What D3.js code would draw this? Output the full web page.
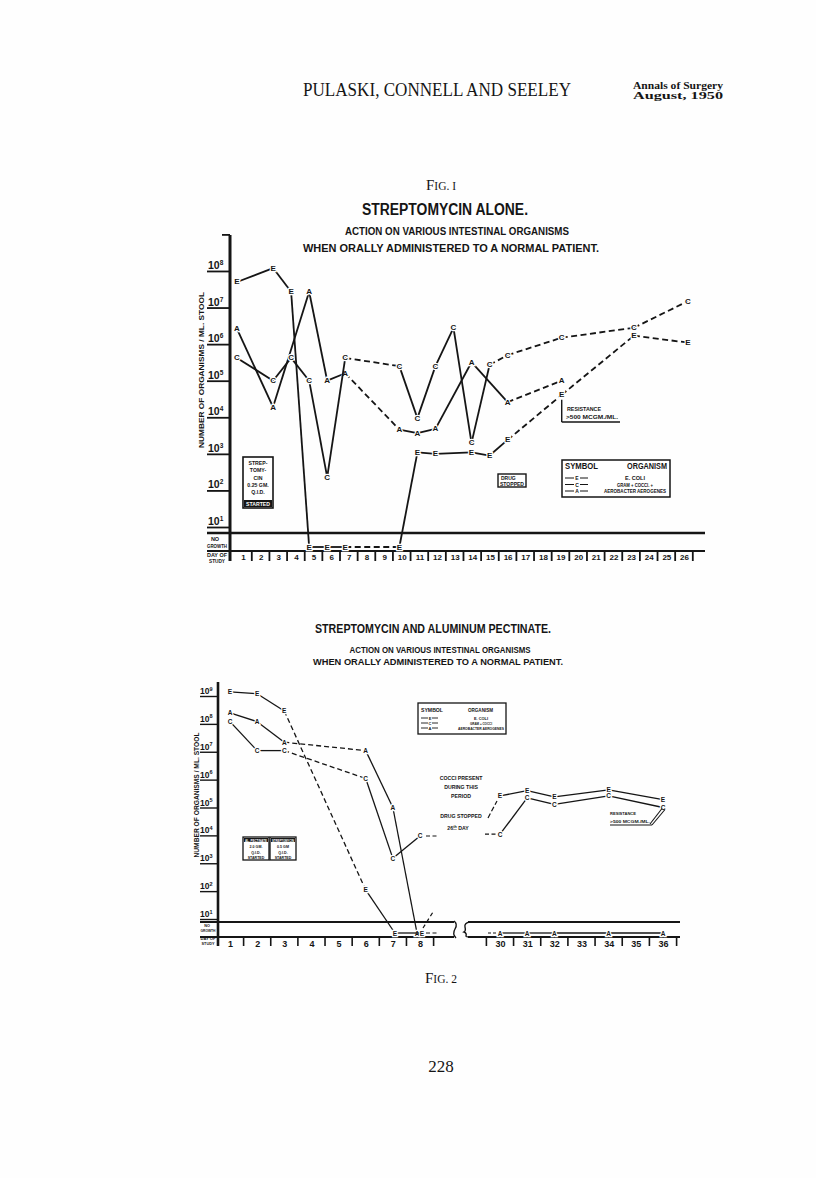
<!DOCTYPE html>
<html><head><meta charset="utf-8">
<script src="https://cdn.jsdelivr.net/npm/d3@7"></script>
<style>
body{margin:0;background:#fff;}
</style></head><body>
<svg id="c" width="816" height="1178"></svg>
<script>
// ---------------- DATA ----------------
// Fig. 1 — Streptomycin alone (organisms / ml stool, 0 = no growth)
const fig1DayLabels = d3.range(1, 27);
const fig1E_days = [1, 3, 4, 5, 6, 7, 10, 11, 12, 14, 15, 16, 19, 23, 26];
const fig1E_vals = [5.0e7, 1.2e8, 2.7e7, 0, 0, 0, 0, 1.1e3, 1.0e3, 1.1e3, 9e2, 2.4e3, 4.1e4, 1.7e6, 1.1e6];
const fig1E_dashed = [0, 0, 0, 0, 0, 1, 0, 0, 0, 0, 0, 1, 1, 1];
const fig1C_days = [1, 3, 4, 5, 6, 7, 10, 11, 12, 13, 14, 15, 16, 19, 23, 26];
const fig1C_vals = [4.2e5, 1.0e5, 4.2e5, 1.0e5, 2.3e2, 4.2e5, 2.5e5, 9.5e3, 2.5e5, 2.8e6, 2.0e3, 2.7e5, 5.0e5, 1.5e6, 2.8e6, 1.5e7];
const fig1C_dashed = [0, 0, 0, 0, 0, 1, 0, 0, 0, 0, 0, 1, 1, 1, 1];
const fig1A_days = [1, 3, 5, 6, 7, 10, 11, 12, 14, 16, 19];
const fig1A_vals = [2.6e6, 1.9e4, 2.7e7, 1.0e5, 1.6e5, 4.6e3, 3.7e3, 4.8e3, 3.2e5, 2.6e4, 1.0e5];
const fig1A_dashed = [0, 0, 0, 0, 1, 0, 0, 0, 0, 1];

// Fig. 2 — Streptomycin and aluminum pectinate
const fig2LeftDays = d3.range(1, 9);
const fig2RightDays = d3.range(30, 37);
const fig2E_days = [1, 2, 3, 6, 7, 8];
const fig2E_vals = [1.4e9, 1.2e9, 2.9e8, 1.1e2, 0, 0];
const fig2A_days = [1, 2, 3, 6, 7, 8];
const fig2A_vals = [2.5e8, 1.2e8, 2.2e7, 1.1e7, 1.0e5, 0];
const fig2C_days = [1, 2, 3, 6, 7, 8];
const fig2C_vals = [1.2e8, 1.1e7, 1.1e7, 1.1e6, 1.5e3, 9.5e3];
const fig2_dashed = [0, 0, 1, 0, 0];
const fig2E2_days = [30, 31, 32, 34, 36];
const fig2E2_vals = [2.6e5, 4.0e5, 2.4e5, 4.3e5, 1.9e5];
const fig2C2_days = [30, 31, 32, 34, 36];
const fig2C2_vals = [1.1e4, 2.2e5, 1.3e5, 2.6e5, 1.0e5];
const fig2A2_days = [30, 31, 32, 34, 36];
const fig2A2_vals = [0, 0, 0, 0, 0];

const fig1Exponents = [1, 2, 3, 4, 5, 6, 7, 8];
const fig2Exponents = [1, 2, 3, 4, 5, 6, 7, 8, 9];
const legendRows = [["E", "E. COLI"], ["C", "GRAM + COCCI. +"], ["A", "AEROBACTER AEROGENES"]];

// ---------------- DRAWING ----------------
const INK = '#151515';
const SANS = "'Liberation Sans Narrow','Liberation Sans','DejaVu Sans Condensed',Arial,sans-serif";
const SERIF = "'Liberation Serif','DejaVu Serif',serif";
const svg = d3.select('#c');
svg.append('rect').attr('width', 816).attr('height', 1178).attr('fill', '#fefefe');

function text(g, x, y, s, size, o = {}) {
  const t = g.append('text').attr('x', x).attr('y', y).text(s)
    .attr('font-family', o.family || SANS).attr('font-size', size)
    .attr('font-weight', o.weight || 'bold').attr('fill', o.fill || INK)
    .attr('text-anchor', o.anchor || 'start');
  if (o.len) t.attr('textLength', o.len).attr('lengthAdjust', 'spacingAndGlyphs');
  if (o.ls) t.attr('letter-spacing', o.ls);
  return t;
}
function line(g, x1, y1, x2, y2, w, dash) {
  const l = g.append('line').attr('x1', x1).attr('y1', y1).attr('x2', x2).attr('y2', y2)
    .attr('stroke', INK).attr('stroke-width', w);
  if (dash) l.attr('stroke-dasharray', dash);
  return l;
}
function series(g, days, vals, dashed, letter, x, y, ngY, o = {}) {
  const pts = days.map((d, i) => ({ x: x(d) + (vals[i] === 0 ? (o.ngOff || 0) : 0), y: vals[i] === 0 ? ngY : y(vals[i]) }));
  for (let i = 0; i < pts.length - 1; i++) {
    line(g, pts[i].x, pts[i].y, pts[i + 1].x, pts[i + 1].y, o.w || 1.8, dashed && dashed[i] ? (o.dash || '6,3.5') : null)
      .attr('stroke-linecap', 'butt');
  }
  g.selectAll(null).data(pts).enter().append('text')
    .attr('x', p => p.x).attr('y', p => p.y).text(letter)
    .attr('font-family', SANS).attr('font-weight', 'bold').attr('font-size', o.fs || 8)
    .attr('text-anchor', 'middle').attr('dominant-baseline', 'central')
    .attr('fill', INK).attr('stroke', '#fefefe').attr('stroke-width', 2.4).attr('paint-order', 'stroke');
  return pts;
}

// ---- Header ----
text(svg, 303, 96, 'PULASKI, CONNELL AND SEELEY', 18, { family: SERIF, weight: 'normal', len: 268 });
text(svg, 633, 89, 'Annals of Surgery', 9.5, { family: SERIF, len: 90 });
text(svg, 633, 99, 'August,  1950', 9.5, { family: SERIF, len: 90 });

// ================= FIG 1 =================
const g1 = svg.append('g');
const t1 = text(g1, 441, 190, '', 15, { family: SERIF, weight: 'normal', anchor: 'middle' });
t1.append('tspan').text('F'); t1.append('tspan').attr('font-size', 11.5).text('IG.  I');
text(g1, 445, 215, 'STREPTOMYCIN  ALONE.', 16, { anchor: 'middle', len: 166 });
text(g1, 457, 235, 'ACTION ON VARIOUS INTESTINAL ORGANISMS', 11, { anchor: 'middle', len: 224 });
text(g1, 451, 252, 'WHEN ORALLY ADMINISTERED TO A NORMAL PATIENT.', 11, { anchor: 'middle', len: 296 });

const x1 = d3.scaleLinear().domain([1, 26]).range([237, 688]);
const xl1 = d3.scaleLinear().domain([1, 26]).range([243, 684]);
const y1 = d3.scaleLog().domain([10, 1e9]).range([527, 234.4]);
const ng1 = 547;

// y axis with decade ticks
const ax1 = g1.append('g').attr('transform', 'translate(230,0)')
  .call(d3.axisLeft(y1).tickValues(fig1Exponents.map(e => Math.pow(10, e)).concat([1e9])).tickSize(23).tickFormat(''));
ax1.select('.domain').remove();
ax1.selectAll('.tick line').attr('stroke', INK).attr('stroke-width', 1.8);
ax1.selectAll('.tick').filter(d => d === 1e9).select('line').attr('x2', -8);
line(g1, 230, 235, 230, 561, 3);
fig1Exponents.forEach(e => {
  const t = text(g1, 208, y1(Math.pow(10, e)) - 2, '10', 10.5);
  t.append('tspan').attr('font-size', 6.5).attr('dy', -4).text(e);
});
const yl1 = text(g1, 0, 0, 'NUMBER OF ORGANISMS / ML. STOOL', 8, { anchor: 'middle', len: 156 });
yl1.attr('transform', 'translate(204,370) rotate(-90)');

// no growth row / day axis
line(g1, 207, 533, 705, 533, 2.6);
line(g1, 207, 551, 705, 551, 2.2);
text(g1, 215, 541, 'NO', 5.5, { anchor: 'middle' });
text(g1, 217, 548, 'GROWTH', 5.5, { anchor: 'middle', len: 20 });
text(g1, 217, 557, 'DAY OF', 5.5, { anchor: 'middle', len: 20 });
text(g1, 217, 563, 'STUDY', 5.5, { anchor: 'middle', len: 16 });
const dx1 = g1.append('g').attr('transform', 'translate(0,551)')
  .call(d3.axisBottom(xl1).tickValues(fig1DayLabels).tickSize(0).tickPadding(3).tickFormat(d => d));
dx1.select('.domain').remove();
dx1.selectAll('text').attr('font-family', SANS).attr('font-weight', 'bold').attr('font-size', 8).attr('fill', INK);
fig1DayLabels.forEach(d => line(g1, xl1(d) + 8.8, 551, xl1(d) + 8.8, 561, 1.8));

// series
series(g1, fig1A_days, fig1A_vals, fig1A_dashed, 'A', x1, y1, ng1);
series(g1, fig1C_days, fig1C_vals, fig1C_dashed, 'C', x1, y1, ng1);
series(g1, fig1E_days, fig1E_vals, fig1E_dashed, 'E', x1, y1, ng1);

// streptomycin started box
const sb = g1.append('g');
sb.append('rect').attr('x', 243).attr('y', 457).attr('width', 30).attr('height', 51).attr('fill', '#fff').attr('stroke', INK).attr('stroke-width', 1.6);
['STREP-', 'TOMY-', 'CIN', '0.25 GM.', 'Q.I.D.'].forEach((s, i) => text(sb, 258, 465 + i * 7.3, s, 5.2, { anchor: 'middle' }));
sb.append('rect').attr('x', 244).attr('y', 500).attr('width', 28).attr('height', 7).attr('fill', INK);
text(sb, 258, 506, 'STARTED', 5, { anchor: 'middle', fill: '#fff', len: 24 });

// drug stopped box
const db = g1.append('g');
db.append('rect').attr('x', 498).attr('y', 474).attr('width', 28).attr('height', 13).attr('fill', '#fff').attr('stroke', INK).attr('stroke-width', 1.4);
text(db, 501, 480, 'DRUG', 5, {});
text(db, 500, 486, 'STOPPED', 5, { len: 24 });

// resistance annotation
const rx = x1(19), ry = y1(4.1e4);
line(g1, rx, ry + 5, rx, 422, 1.4);
line(g1, rx, 422, 620, 422, 1.4);
text(g1, 567, 411, 'RESISTANCE', 5.5, { len: 34 });
text(g1, 566, 419, '>500 MCGM./ML.', 5.5, { len: 52 });

// legend
const lg1 = g1.append('g');
lg1.append('rect').attr('x', 562).attr('y', 460).attr('width', 108).attr('height', 37).attr('fill', '#fff').attr('stroke', INK).attr('stroke-width', 1.5);
text(lg1, 565, 469, 'SYMBOL', 8.5, { len: 33 });
text(lg1, 627, 469, 'ORGANISM', 8.5, { len: 40 });
legendRows.forEach((r, i) => {
  const yy = 478 + i * 6.5;
  line(lg1, 565, yy, 574, yy, 1);
  line(lg1, 580, yy, 588, yy, 1);
  text(lg1, 577, yy + 2, r[0], 5, { anchor: 'middle' });
  text(lg1, 635, yy + 2, r[1], 4.8, { anchor: 'middle', len: i === 2 ? 62 : (i === 1 ? 36 : 20) });
});

// ================= FIG 2 =================
const g2 = svg.append('g');
text(g2, 433, 633, 'STREPTOMYCIN  AND  ALUMINUM  PECTINATE.', 12.5, { anchor: 'middle', len: 236 });
text(g2, 440, 653, 'ACTION ON VARIOUS INTESTINAL ORGANISMS', 9, { anchor: 'middle', len: 181 });
text(g2, 438, 665, 'WHEN ORALLY ADMINISTERED TO A NORMAL PATIENT.', 9, { anchor: 'middle', len: 250 });

const x2a = d3.scaleLinear().domain([1, 8]).range([230, 420]);
const x2b = d3.scaleLinear().domain([30, 36]).range([500, 663]);
const y2 = d3.scaleLog().domain([10, 1e9]).range([919, 696]);
const ng2 = 933;

const ax2 = g2.append('g').attr('transform', 'translate(218,0)')
  .call(d3.axisLeft(y2).tickValues(fig2Exponents.map(e => Math.pow(10, e))).tickSize(18).tickFormat(''));
ax2.select('.domain').remove();
ax2.selectAll('.tick line').attr('stroke', INK).attr('stroke-width', 1.4);
line(g2, 218, 682, 218, 946, 2.6);
fig2Exponents.forEach(e => {
  const t = text(g2, 200, y2(Math.pow(10, e)) - 2, '10', 8.5);
  t.append('tspan').attr('font-size', 5.5).attr('dy', -3.5).text(e);
});
const yl2 = text(g2, 0, 0, 'NUMBER OF ORGANISMS / ML. STOOL', 6.5, { anchor: 'middle', len: 125 });
yl2.attr('transform', 'translate(199,795) rotate(-90)');

// left block of the day axis
line(g2, 200, 922, 454, 922, 1.8);
line(g2, 200, 937, 454, 937, 2);
g2.append('path').attr('d', 'M454,921 q4,3 1,8 q-3,5 1,9').attr('fill', 'none').attr('stroke', INK).attr('stroke-width', 1.4);
text(g2, 207, 927, 'NO', 3.8, { anchor: 'middle' });
text(g2, 208, 932, 'GROWTH', 3.8, { anchor: 'middle', len: 15 });
text(g2, 208, 940, 'DAY OF', 3.8, { anchor: 'middle', len: 15 });
text(g2, 208, 945, 'STUDY', 3.8, { anchor: 'middle', len: 13 });
const dx2a = g2.append('g').attr('transform', 'translate(0,937)')
  .call(d3.axisBottom(x2a).tickValues(fig2LeftDays).tickSize(0).tickPadding(4).tickFormat(d => d));
dx2a.select('.domain').remove();
dx2a.selectAll('text').attr('font-family', SANS).attr('font-weight', 'bold').attr('font-size', 9).attr('fill', INK);
fig2LeftDays.forEach(d => line(g2, x2a(d) + 13.6, 937, x2a(d) + 13.6, 946, 1.6));

// right block
g2.append('path').attr('d', 'M470,922 q-6,1 -5,5 q1,4 -1,5 q3,1 2,4 q0,1 4,1').attr('fill', 'none').attr('stroke', INK).attr('stroke-width', 1.4);
line(g2, 468, 922, 680, 922, 1.8);
line(g2, 468, 937, 680, 937, 2);
const dx2b = g2.append('g').attr('transform', 'translate(0,937)')
  .call(d3.axisBottom(x2b).tickValues(fig2RightDays).tickSize(0).tickPadding(4).tickFormat(d => d));
dx2b.select('.domain').remove();
dx2b.selectAll('text').attr('font-family', SANS).attr('font-weight', 'bold').attr('font-size', 9).attr('fill', INK);
fig2RightDays.forEach(d => line(g2, x2b(d) - 13.6, 937, x2b(d) - 13.6, 946, 1.6));
line(g2, x2b(36) + 13.6, 937, x2b(36) + 13.6, 946, 1.6);

// series (left)
const o2 = { fs: 6.5, w: 1.3, dash: '5,3' };
series(g2, fig2C_days, fig2C_vals, fig2_dashed, 'C', x2a, y2, ng2, o2);
series(g2, fig2A_days, fig2A_vals, fig2_dashed, 'A', x2a, y2, ng2, Object.assign({ ngOff: -3 }, o2));
series(g2, fig2E_days, fig2E_vals, fig2_dashed, 'E', x2a, y2, ng2, Object.assign({ ngOff: 2 }, o2));
// continuation stubs after day 8
line(g2, x2a(8) + 6, ng2, x2a(8) + 18, ng2, 1.2, '4,2.5');
line(g2, x2a(8) + 6, y2(9.5e3), x2a(8) + 18, y2(9.5e3), 1.2, '4,2.5');
line(g2, x2a(8) + 3, ng2 - 5, x2a(8) + 13, ng2 - 21, 1.2, '4,3');
// series (right)
series(g2, fig2E2_days, fig2E2_vals, null, 'E', x2b, y2, ng2, o2);
series(g2, fig2C2_days, fig2C2_vals, null, 'C', x2b, y2, ng2, o2);
series(g2, fig2A2_days, fig2A2_vals, null, 'A', x2b, y2, ng2, o2);
// lead-in stubs before day 30
line(g2, x2b(30) - 12, ng2, x2b(30) - 4, ng2, 1.2, '3,2');
line(g2, x2b(30) - 15, y2(1.1e4), x2b(30) - 4, y2(1.1e4), 1.2, '4,2.5');
line(g2, x2b(30) - 12, y2(2.6e5) + 22, x2b(30) - 3, y2(2.6e5) + 5, 1.2, '5,2.5');

// annotation text
['COCCI PRESENT', 'DURING THIS', 'PERIOD'].forEach((s, i) => text(g2, 461, 780 + i * 9, s, 5.2, { anchor: 'middle' }));
text(g2, 461, 818, 'DRUG STOPPED', 5.2, { anchor: 'middle' });
const t26 = text(g2, 458, 830, '26', 5.2, { anchor: 'middle' });
t26.append('tspan').attr('font-size', 3.8).attr('dy', -2).attr('text-decoration', 'underline').text('th');
t26.append('tspan').attr('dy', 2).text(' DAY');

// streptomycin / pectinate boxes
const bx = g2.append('g');
[[243, ['AL. PECTINATE', '2.0 GM.', 'Q.I.D.', 'STARTED']], [270, ['STREPTOMYCIN', '0.5 GM', 'Q.I.D.', 'STARTED']]].forEach(([bx0, lines]) => {
  bx.append('rect').attr('x', bx0).attr('y', 837).attr('width', 26).attr('height', 23).attr('fill', '#fff').attr('stroke', INK).attr('stroke-width', 1.3);
  bx.append('rect').attr('x', bx0 + 1).attr('y', 838).attr('width', 24).attr('height', 4).attr('fill', INK);
  text(bx, bx0 + 13, 841.5, lines[0], 3.4, { anchor: 'middle', fill: '#fff', len: 22 });
  lines.slice(1).forEach((s, i) => text(bx, bx0 + 13, 848 + i * 5.5, s, 3.6, { anchor: 'middle' }));
});

// resistance annotation
text(g2, 610, 815, 'RESISTANCE', 4.2, { len: 26 });
text(g2, 610, 823, '>500 MCGM./ML.', 4.2, { len: 40 });
line(g2, 610, 825, 652, 825, 1.1);
line(g2, 652, 825, x2b(36) + 2, y2(1.0e5) + 2, 1.1);
line(g2, 650, 824, x2b(36) - 1, y2(1.0e5) + 1, 1.1);

// legend
const lg2 = g2.append('g');
lg2.append('rect').attr('x', 418).attr('y', 703).attr('width', 88).attr('height', 31).attr('fill', '#fff').attr('stroke', INK).attr('stroke-width', 1.3);
text(lg2, 421, 712, 'SYMBOL', 6.2, { len: 22 });
text(lg2, 468, 712, 'ORGANISM', 6.2, { len: 25 });
legendRows.forEach((r, i) => {
  const yy = 718 + i * 5;
  line(lg2, 421, yy, 428, yy, 0.9);
  line(lg2, 432, yy, 438, yy, 0.9);
  text(lg2, 430, yy + 1.5, r[0], 4, { anchor: 'middle' });
  text(lg2, 481, yy + 1.5, i === 1 ? 'GRAM + COCCI' : r[1], 3.6, { anchor: 'middle', len: i === 2 ? 46 : (i === 1 ? 22 : 14) });
});

// caption + page number
const f2 = text(svg, 441, 983, '', 15, { family: SERIF, weight: 'normal', anchor: 'middle' });
f2.append('tspan').text('F'); f2.append('tspan').attr('font-size', 11.5).text('IG.  2');
text(svg, 441, 1072, '228', 17, { family: SERIF, weight: 'normal', anchor: 'middle' });
</script>
</body></html>
